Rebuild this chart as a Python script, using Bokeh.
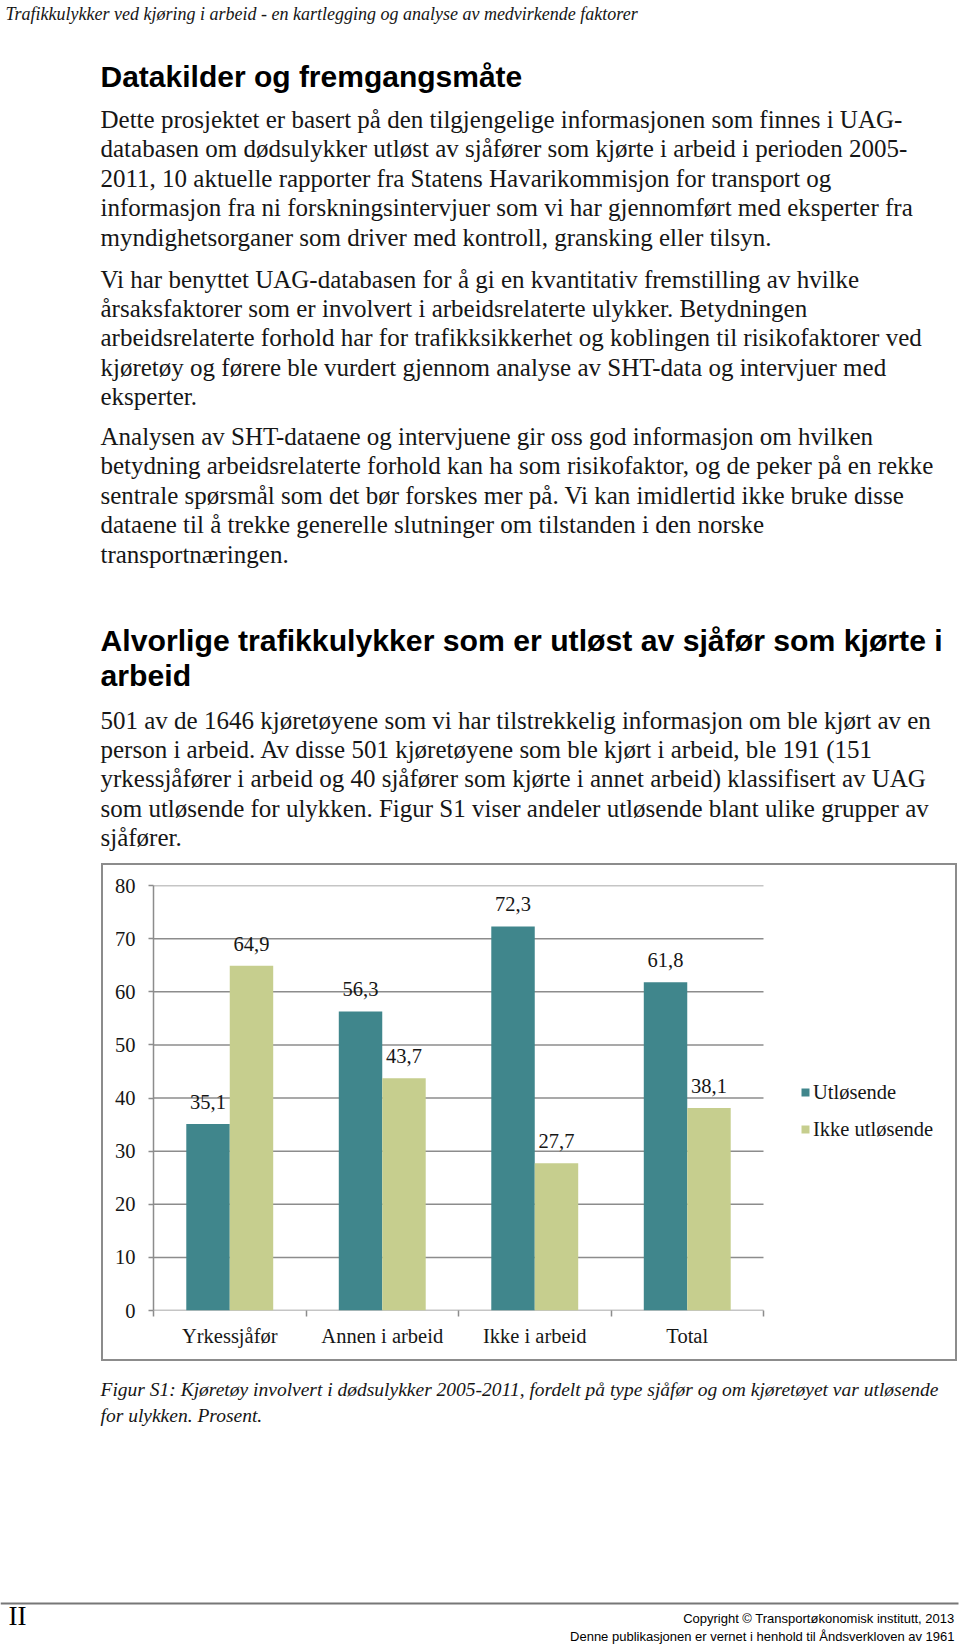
from bokeh.plotting import figure
from bokeh.models import Range1d, FixedTicker, Legend, LegendItem, ColumnDataSource, Spacer
from bokeh.layouts import column, row
from bokeh.transform import dodge
from bokeh.embed import file_html
from bokeh.resources import INLINE
from bokeh.core.properties import value

# ---------------- data ----------------
categories = ["Yrkessjåfør", "Annen i arbeid", "Ikke i arbeid", "Total"]
utlosende = [35.1, 56.3, 72.3, 61.8]
ikke_utlosende = [64.9, 43.7, 27.7, 38.1]
series_names = ["Utløsende", "Ikke utløsende"]
y_ticks = [0, 10, 20, 30, 40, 50, 60, 70, 80]

header_text = "Trafikkulykker ved kjøring i arbeid - en kartlegging og analyse av medvirkende faktorer"
heading1 = ["Datakilder og fremgangsmåte"]
para1 = [
    "Dette prosjektet er basert på den tilgjengelige informasjonen som finnes i UAG-",
    "databasen om dødsulykker utløst av sjåfører som kjørte i arbeid i perioden 2005-",
    "2011, 10 aktuelle rapporter fra Statens Havarikommisjon for transport og",
    "informasjon fra ni forskningsintervjuer som vi har gjennomført med eksperter fra",
    "myndighetsorganer som driver med kontroll, gransking eller tilsyn.",
]
para2 = [
    "Vi har benyttet UAG-databasen for å gi en kvantitativ fremstilling av hvilke",
    "årsaksfaktorer som er involvert i arbeidsrelaterte ulykker. Betydningen",
    "arbeidsrelaterte forhold har for trafikksikkerhet og koblingen til risikofaktorer ved",
    "kjøretøy og førere ble vurdert gjennom analyse av SHT-data og intervjuer med",
    "eksperter.",
]
para3 = [
    "Analysen av SHT-dataene og intervjuene gir oss god informasjon om hvilken",
    "betydning arbeidsrelaterte forhold kan ha som risikofaktor, og de peker på en rekke",
    "sentrale spørsmål som det bør forskes mer på. Vi kan imidlertid ikke bruke disse",
    "dataene til å trekke generelle slutninger om tilstanden i den norske",
    "transportnæringen.",
]
heading2 = ["Alvorlige trafikkulykker som er utløst av sjåfør som kjørte i", "arbeid"]
para4 = [
    "501 av de 1646 kjøretøyene som vi har tilstrekkelig informasjon om ble kjørt av en",
    "person i arbeid. Av disse 501 kjøretøyene som ble kjørt i arbeid, ble 191 (151",
    "yrkessjåfører i arbeid og 40 sjåfører som kjørte i annet arbeid) klassifisert av UAG",
    "som utløsende for ulykken. Figur S1 viser andeler utløsende blant ulike grupper av",
    "sjåfører.",
]
caption = [
    "Figur S1: Kjøretøy involvert i dødsulykker 2005-2011, fordelt på type sjåfør og om kjøretøyet var utløsende",
    "for ulykken. Prosent.",
]
page_number = "II"
copyright_lines = [
    "Copyright © Transportøkonomisk institutt, 2013",
    "Denne publikasjonen er vernet i henhold til Åndsverkloven av 1961",
]

# ---------------- styles ----------------
SERIF = "Liberation Serif"
SANS = "Liberation Sans"
TXT = "#161616"
GRAY = "#8c8c8c"
TEAL = "#40868c"
OLIVE = "#c6ce8e"
W = 960


def blank(width, height):
    f = figure(width=width, height=height, x_range=Range1d(0, width), y_range=Range1d(height, 0),
               x_axis_type=None, y_axis_type=None, output_backend="svg", toolbar_location=None,
               min_border=0, outline_line_color=None)
    f.xgrid.visible = False
    f.ygrid.visible = False
    return f


def put_lines(fig, lines, x, y0, step, size, font=SERIF, style="normal", color=TXT, align="left", yoff=0):
    fig.text(x=[x] * len(lines), y=[y0 + i * step - yoff for i in range(len(lines))], text=lines,
             text_font=value(font), text_font_size=f"{size}px", text_font_style=style,
             text_color=color, text_align=align, text_baseline="middle")


# ---------------- top text block ----------------
TOP_H = 863
top = blank(W, TOP_H)
LS = 29.4
put_lines(top, [header_text], 5, 13, 0, 18, style="italic")
put_lines(top, heading1, 100, 76, 0, 30, font=SANS, style="bold", color="#000000")
put_lines(top, para1, 100, 119, LS, 25)
put_lines(top, para2, 100, 278.5, LS, 25)
put_lines(top, para3, 100, 436, LS, 25)
put_lines(top, heading2, 100, 640, 34.7, 30.2, font=SANS, style="bold", color="#000000")
put_lines(top, para4, 100, 719.5, LS, 25)

# ---------------- chart ----------------
n = len(categories)
CH_W, CH_H = 856, 498
B_LEFT, B_TOP, B_BOTTOM, B_RIGHT = 50, 20, 53, 8
BAR_AREA_PX = 610  # pixel width taken by the four category slots
frame_w = CH_W - B_LEFT - B_RIGHT
src = ColumnDataSource(dict(
    xc=[i + 0.5 for i in range(n)],
    utl=utlosende,
    ikke=ikke_utlosende,
    utl_lbl=[f"{v:.1f}".replace(".", ",") for v in utlosende],
    ikke_lbl=[f"{v:.1f}".replace(".", ",") for v in ikke_utlosende],
))

p = figure(width=CH_W, height=CH_H, x_range=Range1d(0, n * frame_w / BAR_AREA_PX),
           y_range=Range1d(0, y_ticks[-1]),
           output_backend="svg", toolbar_location=None,
           min_border_left=B_LEFT, min_border_right=B_RIGHT, min_border_top=B_TOP,
           min_border_bottom=B_BOTTOM,
           outline_line_color=None, styles={"border": f"2px solid {GRAY}"})

# horizontal gridlines (only across the category slots)
p.segment(x0=[0] * len(y_ticks), x1=[n] * len(y_ticks), y0=y_ticks, y1=y_ticks,
          line_color=GRAY, line_width=1.5)

r1 = p.vbar(x=dodge("xc", -0.1425, range=p.x_range), top="utl", width=0.285, source=src,
            fill_color=TEAL, line_color=None)
r2 = p.vbar(x=dodge("xc", 0.1425, range=p.x_range), top="ikke", width=0.285, source=src,
            fill_color=OLIVE, line_color=None)

for col, lbl, off in (("utl", "utl_lbl", -0.1425), ("ikke", "ikke_lbl", 0.1425)):
    p.text(x=dodge("xc", off, range=p.x_range), y=col, text=lbl, source=src, y_offset=-22,
           text_align="center", text_baseline="middle", text_font=value(SERIF),
           text_font_size="20.5px", text_color=TXT)

xa = p.xaxis[0]
xa.ticker = FixedTicker(ticks=[i + 0.5 for i in range(n)], minor_ticks=list(range(n + 1)))
xa.major_label_overrides = {i + 0.5: c for i, c in enumerate(categories)}
xa.major_tick_out = 0
xa.major_tick_in = 0
xa.minor_tick_out = 6
xa.minor_tick_in = 0
xa.minor_tick_line_color = GRAY
xa.minor_tick_line_width = 1.5
xa.axis_line_color = None
xa.major_label_standoff = 8
xa.major_label_text_font = SERIF
xa.major_label_text_font_size = "20.5px"
xa.major_label_text_color = TXT

ya = p.yaxis[0]
ya.ticker = FixedTicker(ticks=y_ticks, minor_ticks=[])
ya.major_tick_out = 5
ya.major_tick_in = 0
ya.minor_tick_out = 0
ya.minor_tick_in = 0
ya.major_tick_line_color = GRAY
ya.major_tick_line_width = 1.5
ya.axis_line_color = GRAY
ya.axis_line_width = 1.5
ya.major_label_standoff = 13
ya.major_label_text_font = SERIF
ya.major_label_text_font_size = "20.5px"
ya.major_label_text_color = TXT

p.xgrid.visible = False
p.ygrid.visible = False

legend = Legend(items=[LegendItem(label=series_names[0], renderers=[r1]),
                       LegendItem(label=series_names[1], renderers=[r2])],
                location=(647, 169), orientation="vertical", border_line_color=None,
                background_fill_alpha=0, padding=0, margin=0, spacing=13,
                glyph_width=10, glyph_height=10, label_standoff=3, label_height=24,
                label_text_font=SERIF, label_text_font_size="20.5px", label_text_color=TXT,
                label_text_baseline="middle")
p.add_layout(legend)

# ---------------- bottom block ----------------
BOT_Y0 = 863 + CH_H
BOT_H = 1647 - BOT_Y0
bot = blank(W, BOT_H)
put_lines(bot, caption, 100, 1388.5, 26.3, 19.5, style="italic", yoff=BOT_Y0)
bot.segment(x0=[0], y0=[1603 - BOT_Y0], x1=[958], y1=[1603 - BOT_Y0], line_color="#777777", line_width=2)
put_lines(bot, [page_number], 8, 1615, 0, 27, yoff=BOT_Y0, color="#000000")
put_lines(bot, copyright_lines, 954, 1617.5, 18, 13, font=SANS, align="right", yoff=BOT_Y0, color="#000000")

layout = column(top, row(Spacer(width=101), p), bot, spacing=0)

open("out.html", "w").write(file_html(layout, INLINE))
